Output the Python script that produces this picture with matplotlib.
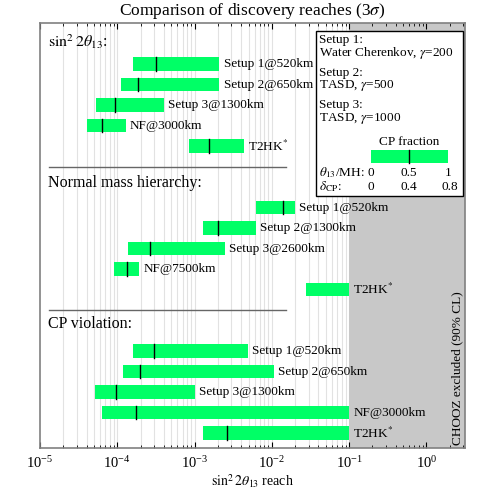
import matplotlib
matplotlib.use("Agg")
import matplotlib.pyplot as plt
import matplotlib.transforms as mtransforms
from matplotlib.patches import Rectangle
import numpy as np

plt.rcParams["font.family"] = ["Liberation Serif", "DejaVu Serif"]
plt.rcParams["mathtext.fontset"] = "stix"

GREEN = "#00FF66"
GRAY = "#C8C8C8"

# ── data (sin^2 2theta13 reach ranges) ──
theta_labels = ["Setup 1@520km", "Setup 2@650km", "Setup 3@1300km", "NF@3000km", "T2HK$^{*}$"]
theta_lo = [1.62e-4, 1.11e-4, 5.35e-5, 4.1e-5, 8.5e-4]
theta_hi = [2.1e-3, 2.1e-3, 4.0e-4, 1.28e-4, 4.4e-3]
theta_mid = [3.2e-4, 1.88e-4, 9.3e-5, 6.25e-5, 1.55e-3]

mh_labels = ["Setup 1@520km", "Setup 2@1300km", "Setup 3@2600km", "NF@7500km", "T2HK$^{*}$"]
mh_lo = [6.3e-3, 1.27e-3, 1.37e-4, 9.2e-5, 2.74e-2]
mh_hi = [2.0e-2, 6.3e-3, 2.47e-3, 1.92e-4, 0.1]
mh_mid = [1.41e-2, 2.02e-3, 2.69e-4, 1.32e-4, None]

cp_labels = ["Setup 1@520km", "Setup 2@650km", "Setup 3@1300km", "NF@3000km", "T2HK$^{*}$"]
cp_lo = [1.62e-4, 1.17e-4, 5.2e-5, 6.4e-5, 1.27e-3]
cp_hi = [4.9e-3, 1.06e-2, 1.0e-3, 0.1, 0.1]
cp_mid = [3.0e-4, 1.94e-4, 9.7e-5, 1.75e-4, 2.6e-3]

sections = [
    (r"$\sin^2 2\theta_{13}$:", theta_labels, theta_lo, theta_hi, theta_mid),
    ("Normal mass hierarchy:", mh_labels, mh_lo, mh_hi, mh_mid),
    ("CP violation:", cp_labels, cp_lo, cp_hi, cp_mid),
]
chooz_limit = 0.1

fig = plt.figure(figsize=(4.91, 4.91), dpi=100)
ax = fig.add_axes([40 / 491, 43 / 491, 425 / 491, 425 / 491])
ax.set_xscale("log")
ax.set_xlim(1e-5, 3.16)
ax.set_ylim(20.73, 0)

# grid at every 1..9 x 10^n
for dec in range(-5, 1):
    for m in range(1, 10):
        v = m * 10.0 ** dec
        if 1e-5 < v < 3.16:
            ax.axvline(v, color="#E2E2E2", lw=0.8, zorder=0)

ax.axvspan(chooz_limit, 3.16, color=GRAY, lw=0, zorder=1)

blend = mtransforms.blended_transform_factory(ax.transAxes, ax.transData)
bar_h = 0.65
for k, (head, labels, lo, hi, mid) in enumerate(sections):
    base = 7 * k
    ax.text(0.019, base + [0.93, 0.8, 0.7][k], head, transform=blend,
            fontsize=11.5, ha="left", va="center")
    ys = base + 2 + np.arange(len(lo))
    lo = np.array(lo)
    hi = np.array(hi)
    ax.barh(ys, hi - lo, left=lo, height=bar_h, color=GREEN, zorder=2)
    for y, m in zip(ys, mid):
        if m is not None:
            ax.plot([m, m], [y - bar_h / 2, y + bar_h / 2], color="black", lw=1, zorder=3)
    for y, h, lab in zip(ys, hi, labels):
        ax.text(h * 1.13, y, lab, fontsize=9.5, ha="left", va="center", zorder=4)
    if k > 0:
        ax.plot([0.02, 0.58], [base, base], transform=blend, color="#666666", lw=1, zorder=3)

ax.text(0.981, 0.006, "CHOOZ excluded (90% CL)", transform=ax.transAxes,
        rotation=90, fontsize=9.5, ha="center", va="bottom", zorder=4)

# legend box
ax.add_patch(Rectangle((0.649, 0.593), 0.346, 0.388, transform=ax.transAxes,
                       facecolor="white", edgecolor="black", lw=1, zorder=5))
lx = 0.656
box_lines = [
    (0.960, "Setup 1:"),
    (0.929, r"Water Cherenkov, $\gamma$=200"),
    (0.882, "Setup 2:"),
    (0.852, r"TASD, $\gamma$=500"),
    (0.807, "Setup 3:"),
    (0.776, r"TASD, $\gamma$=1000"),
]
for y, t in box_lines:
    ax.text(lx, y, t, transform=ax.transAxes, fontsize=9.5, ha="left", va="center", zorder=6)
ax.text(0.868, 0.720, "CP fraction", transform=ax.transAxes, fontsize=9.5,
        ha="center", va="center", zorder=6)
ax.add_patch(Rectangle((0.779, 0.670), 0.181, 0.031, transform=ax.transAxes,
                       facecolor=GREEN, edgecolor="none", zorder=6))
ax.plot([0.868, 0.868], [0.670, 0.701], transform=ax.transAxes, color="black", lw=1, zorder=7)
ax.text(lx, 0.648, r"$\theta_{13}$/MH:", transform=ax.transAxes, fontsize=9.5,
        ha="left", va="center", zorder=6)
ax.text(lx, 0.614, r"$\delta_{\rm CP}$:", transform=ax.transAxes, fontsize=9.5,
        ha="left", va="center", zorder=6)
for xf, a, b in [(0.779, "0", "0"), (0.868, "0.5", "0.4"), (0.960, "1", "0.8")]:
    ax.text(xf, 0.648, a, transform=ax.transAxes, fontsize=9.5, ha="center", va="center", zorder=6)
    ax.text(xf if b != "0.8" else 0.965, 0.614, b, transform=ax.transAxes, fontsize=9.5,
            ha="center", va="center", zorder=6)

ax.set_yticks([])
ax.tick_params(axis="x", which="both", direction="in", top=True, labelsize=10.5, pad=5)
ax.tick_params(axis="x", which="major", length=4)
ax.tick_params(axis="x", which="minor", length=2)
for s in ax.spines.values():
    s.set_color("#808080")
    s.set_linewidth(1.2)

ax.set_xlabel(r"$\sin^2 2\theta_{13}$ reach", fontsize=10, labelpad=1)
fig.text(252 / 491, 1 - 11 / 491, r"Comparison of discovery reaches (3$\sigma$)",
         fontsize=12.5, ha="center", va="center")

fig.savefig("out.png", dpi=100)
